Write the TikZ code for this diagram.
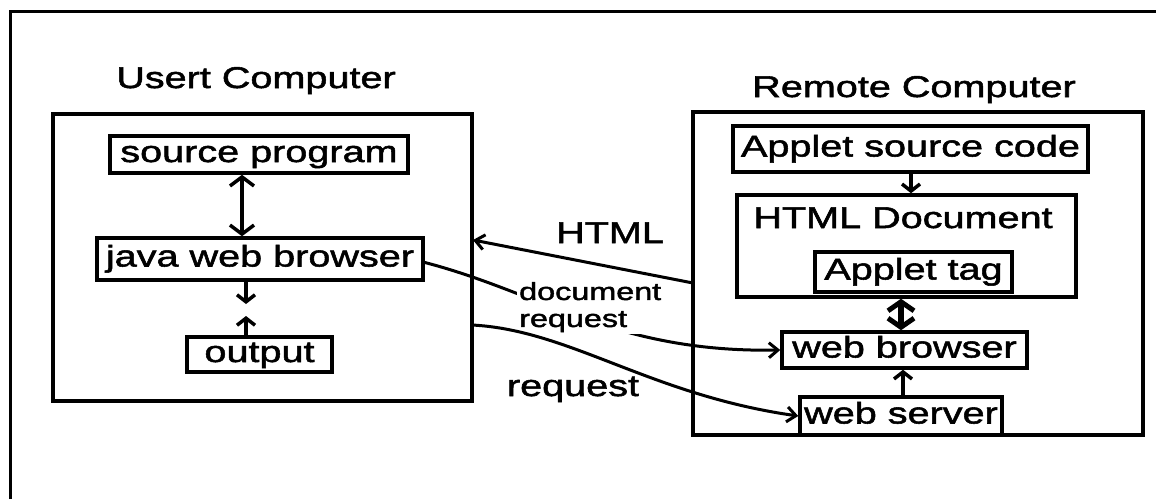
\documentclass[tikz,border=0pt]{standalone}
\usepackage{fontspec}
\setmainfont{Liberation Sans}[FakeStretch=1.32, FakeBold=1.8]
\usetikzlibrary{arrows.meta}

\tikzset{
  big/.style={font=\fontsize{30}{32}\selectfont},
  box/.style={draw, line width=3.5pt, inner sep=0pt, big, text height=20pt, text depth=5pt},
  frame/.style={draw, line width=4pt, inner sep=0pt},
  small/.style={font=\fontsize{24.5}{27}\selectfont, align=left, fill=white, inner sep=2pt},
  conn/.style={line width=3pt, -{Straight Barb[length=9pt,width=15pt,line width=3pt]}},
  dbl/.style={line width=3.5pt, {Straight Barb[length=9pt,width=24pt,line width=3.5pt]}-{Straight Barb[length=9pt,width=24pt,line width=3.5pt]}},
  thickdbl/.style={line width=5.5pt, {Straight Barb[length=9pt,width=26pt,line width=5pt]}-{Straight Barb[length=9pt,width=26pt,line width=5pt]}},
  short/.style={line width=3.5pt, -{Straight Barb[length=7pt,width=18pt,line width=3.5pt]}},
}

\begin{document}
\begin{tikzpicture}[x=1pt,y=-1pt]
\useasboundingbox (0,0) rectangle (1156,499);

% outer border (top and left edges)
\coordinate (fbl) at (10,499);
\coordinate (ftl) at (10,11);
\coordinate (ftr) at (1156,11);
\draw[line width=3pt] (fbl) -- (ftl) -- (ftr);

% user computer
\node[big, anchor=base] (utitle) at (256,88) {Usert Computer};
\node[frame, minimum width=419pt, minimum height=287pt] (lbox) at (262.5,257.5) {};
\node[box, minimum width=298pt, minimum height=37pt] (src) at (259,154.5) {source program};
\node[box, minimum width=326pt, minimum height=42pt] (java) at (260,259) {java web browser};
\node[box, minimum width=145pt, minimum height=35pt] (out) at (259.5,354.5) {output};

\coordinate (ax) at (242,0);
\coordinate (bx) at (246,0);
\coordinate (jdown) at (246,304);
\coordinate (oup) at (246,316);
\draw[dbl] (src.south -| ax) -- (java.north -| ax);
\draw[short] (java.south -| bx) -- (jdown);
\draw[short] (out.north -| bx) -- (oup);

% remote computer
\node[big, anchor=base] (rtitle) at (914,97) {Remote Computer};
\node[frame, minimum width=450pt, minimum height=323pt] (rbox) at (918,273.5) {};
\node[box, minimum width=355pt, minimum height=46pt] (asrc) at (910.5,149) {Applet source code};
\node[frame, line width=3.5pt, minimum width=339pt, minimum height=102pt] (hdoc) at (906.5,246) {};
\node[big, anchor=base] (hdoctxt) at (903,228) {HTML Document};
\node[box, minimum width=197pt, minimum height=40pt] (atag) at (913.5,272) {Applet tag};
\node[box, minimum width=245pt, minimum height=36pt] (wb) at (904.5,350) {web browser};
\node[box, minimum width=202pt, minimum height=38pt] (ws) at (901,416) {web server};

\coordinate (cx) at (911,0);
\coordinate (dx) at (901,0);
\coordinate (ex) at (903,0);
\draw[short] (asrc.south -| cx) -- (hdoc.north -| cx);
\draw[thickdbl] (hdoc.south -| dx) -- (wb.north -| dx);
\draw[short] (ws.north -| ex) -- (wb.south -| ex);

% traffic between the two computers
\coordinate (hstart) at (693,283);
\coordinate (hend) at (473,240);
\draw[conn] (hstart) -- (hend);
\node[big, anchor=base] (html) at (610,243) {HTML};

\coordinate (jout) at (423,262);
\draw[conn] (jout) .. controls (540,292) and (615,353) .. (wb.west);
\node[small, anchor=north west] (docreq) at (517,280) {document\\request};

\coordinate (rstart) at (472,325);
\draw[conn] (rstart) .. controls (570,330) and (650,395) .. (ws.west);
\node[big, anchor=base] (req) at (573,396) {request};
\end{tikzpicture}
\end{document}
